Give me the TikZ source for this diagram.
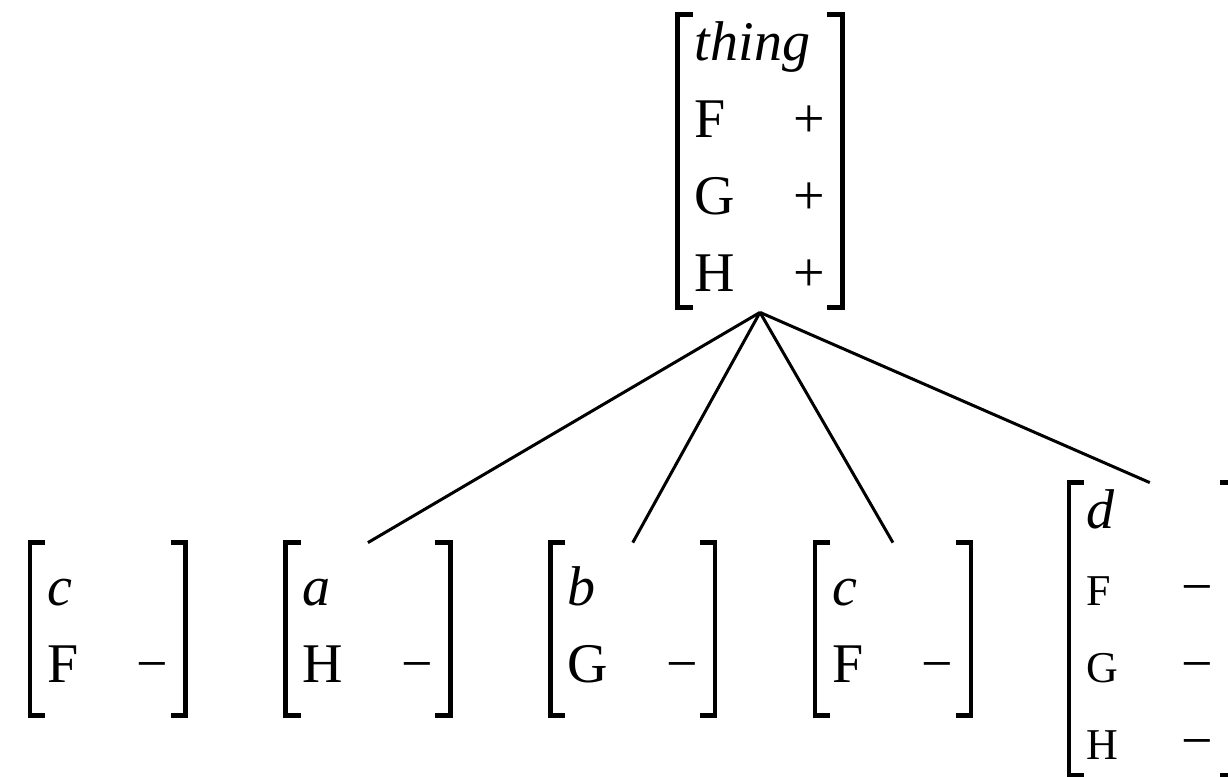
\documentclass[tikz,border=0pt]{standalone}
\usepackage{fontspec}
\setmainfont{Liberation Serif}
\usetikzlibrary{positioning}

\newcommand{\avmsize}{\fontsize{28}{38.5}\selectfont}
\newcommand{\smfeat}[1]{{\fontsize{22}{38.5}\selectfont #1}}

\begin{document}
\begin{tikzpicture}[
  node distance=50pt,
  avm/.style={inner xsep=8.5pt,inner ysep=-4pt,minimum height=86pt,font=\avmsize},
  bracket/.style={line width=2.2pt},
  branch/.style={line width=1.5pt}
]
  \useasboundingbox (0,0) rectangle (614pt,-388.5pt);

  % mother
  \node[avm] (top) at (380pt,-80.5pt)
    {\begin{tabular}{@{}l@{\hspace{29pt}}l@{}}
       \multicolumn{2}{@{}l@{}}{\textit{thing}}\\
       F & + \\ G & + \\ H & +
     \end{tabular}};

  % daughters
  \node[avm,anchor=west] (c1) at (15pt,-314.5pt)
    {\begin{tabular}{@{}l@{\hspace{29pt}}l@{}} \textit{c} & \\ F & − \end{tabular}};
  \node[avm,right=of c1] (a)
    {\begin{tabular}{@{}l@{\hspace{29pt}}l@{}} \textit{a} & \\ H & − \end{tabular}};
  \node[avm,right=of a] (b)
    {\begin{tabular}{@{}l@{\hspace{29pt}}l@{}} \textit{b} & \\ G & − \end{tabular}};
  \node[avm,right=of b] (c2)
    {\begin{tabular}{@{}l@{\hspace{29pt}}l@{}} \textit{c} & \\ F & − \end{tabular}};
  \node[avm,right=of c2,xshift=-1pt] (d)
    {\begin{tabular}{@{}l@{\hspace{32pt}}l@{\hspace{2pt}}}
       \textit{d} & \\ \smfeat{F} & − \\ \smfeat{G} & − \\ \smfeat{H} & −
     \end{tabular}};

  % brackets
  \foreach \n in {top,c1,a,b,c2,d} {
    \draw[bracket] ([xshift=7.5pt]\n.north west) -| (\n.south west) -- ++(7.5pt,0);
    \draw[bracket] ([xshift=-7.5pt]\n.north east) -| (\n.south east) -- ++(-7.5pt,0);
  }

  % branches
  \coordinate (apex) at ([yshift=-2.5pt]top.south);
  \foreach \n in {a,b,c2}
    \draw[branch] (apex) -- (\n.north);
  \draw[branch] (apex) -- ([xshift=-1pt]d.north);
\end{tikzpicture}
\end{document}
